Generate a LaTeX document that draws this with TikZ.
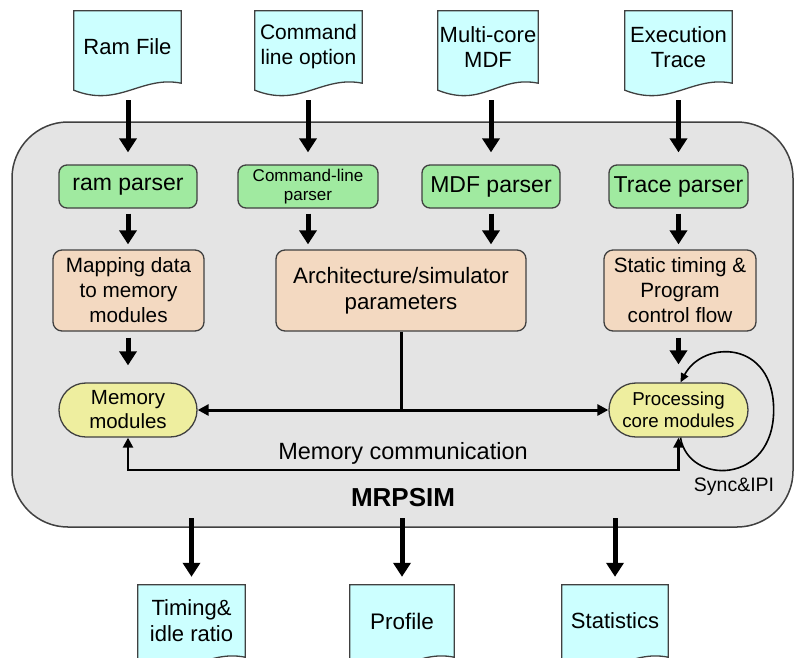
\documentclass[tikz,border=0pt]{standalone}
\usepackage{fontspec}
\setmainfont{Liberation Sans}
\usetikzlibrary{arrows.meta,calc}

\definecolor{docfill}{HTML}{CCFFFF}
\definecolor{parsefill}{HTML}{A0EAA0}
\definecolor{stagefill}{HTML}{F3D9C1}
\definecolor{modfill}{HTML}{EEEE9F}
\definecolor{simfill}{HTML}{E4E4E4}
\definecolor{edge}{HTML}{404040}

\tikzset{
  doc/.style={minimum width=#1, minimum height=72pt, inner sep=0pt,
    align=center, font=\fontsize{22}{25}\selectfont},
  docline/.style={draw=edge, line width=1.3pt, fill=docfill},
  parser/.style={draw=edge, line width=1.3pt, fill=parsefill, rounded corners=8pt,
    minimum width=#1, minimum height=43pt, inner sep=0pt, align=center,
    font=\fontsize{23}{24}\selectfont},
  stage/.style={draw=edge, line width=1.3pt, fill=stagefill, rounded corners=9pt,
    minimum width=#1, minimum height=81pt, inner sep=0pt, align=center,
    font=\fontsize{20.7}{25}\selectfont},
  module/.style={draw=edge, line width=1.3pt, fill=modfill, rounded corners=26.9pt,
    minimum width=#1, minimum height=54pt, inner sep=0pt, align=center},
  simbox/.style={draw=edge, line width=1.5pt, fill=simfill, rounded corners=56pt,
    minimum width=781pt, minimum height=405pt, inner sep=0pt},
  bigarrow/.style={line width=5pt, -{Triangle[width=17pt,length=14pt]}},
  link/.style={line width=3pt, -{Triangle[width=11pt,length=11pt]}},
  commlink/.style={line width=2.4pt, -{Triangle[width=10pt,length=10pt]}},
  looplink/.style={line width=1.6pt, -{Triangle[width=8pt,length=9pt]}},
}

% document-shaped outline (wavy bottom edge) around a named node
\newcommand\docoutline[1]{%
  \draw[docline] (#1.north west) -- (#1.north east) -- (#1.south east)
    .. controls +(-40,-8) and +(45,18) .. ([yshift=-7pt]#1.south west) -- cycle;}

\begin{document}
\begin{tikzpicture}[x=1pt,y=-1pt]
\useasboundingbox (0,0) rectangle (795,657);
\clip (0,0) rectangle (795,657);

% simulator container
\node[simbox] (sim) at (402.5,324.5) {};

% input documents
\node[doc=107pt] (ramfile) at (127.5,47) {};
\node[doc=107pt] (cmdfile) at (308.5,47) {};
\node[doc=100pt] (mdffile) at (488,47) {};
\node[doc=107pt] (tracefile) at (678.5,47) {};
\docoutline{ramfile}
\docoutline{cmdfile}
\docoutline{mdffile}
\docoutline{tracefile}
\node[doc=107pt] at (ramfile) {Ram File};
\node[doc=107pt, font=\fontsize{21}{25}\selectfont] at (cmdfile) {Command\\line option};
\node[doc=100pt] at (mdffile) {Multi-core\\MDF};
\node[doc=107pt] at (tracefile) {Execution\\Trace};

% parsers
\node[parser=138pt] (ramparser) at (128,186.5) {ram parser};
\node[parser=140pt, font=\fontsize{17}{19}\selectfont] (cmdparser) at (308,186.5) {Command-line\\parser};
\node[parser=138pt] (mdfparser) at (491,186.5) {MDF parser};
\node[parser=139pt] (traceparser) at (678.5,186.5) {Trace parser};

% processing stages
\node[stage=151pt] (mapping) at (128.5,290.5) {Mapping data\\to memory\\modules};
\node[stage=250pt, font=\fontsize{22.3}{26}\selectfont] (arch) at (401,290.5) {Architecture/simulator\\parameters};
\node[stage=152pt] (static) at (680,290.5) {Static timing \&\\Program\\control flow};

% modules
\node[module=138pt, font=\fontsize{20.5}{24}\selectfont] (memory) at (128,410) {Memory\\modules};
\node[module=139pt, font=\fontsize{18.7}{22}\selectfont] (processing) at (678.5,410) {Processing\\core modules};

% output documents
\node[doc=107pt] (timing) at (191.5,621) {};
\node[doc=104pt] (profile) at (402,621) {};
\node[doc=106pt] (stats) at (615,621) {};
\docoutline{timing}
\docoutline{profile}
\docoutline{stats}
\node[doc=107pt, font=\fontsize{22}{26}\selectfont] at (timing) {Timing\&\\idle ratio};
\node[doc=104pt, font=\fontsize{22.5}{26}\selectfont] at (profile) {Profile};
\node[doc=106pt, font=\fontsize{22}{26}\selectfont] at (stats) {Statistics};

% labels
\node[font=\fontsize{23.5}{26}\selectfont] (commlabel) at (403,453) {Memory communication};
\node[font=\fontsize{26}{30}\selectfont\bfseries] (simlabel) at (403,498) {MRPSIM};
\node[font=\fontsize{19.5}{22}\selectfont] (synclabel) at (734,487) {Sync\&IPI};

% inputs into parsers
\draw[bigarrow, shorten <=17pt, shorten >=12pt] (ramparser.north |- ramfile.south) -- (ramparser.north);
\draw[bigarrow, shorten <=17pt, shorten >=12pt] (cmdparser.north |- cmdfile.south) -- (cmdparser.north);
\draw[bigarrow, shorten <=17pt, shorten >=12pt] (mdfparser.north |- mdffile.south) -- (mdfparser.north);
\draw[bigarrow, shorten <=17pt, shorten >=12pt] (traceparser.north |- tracefile.south) -- (traceparser.north);

% parsers into stages
\draw[bigarrow, shorten <=5pt, shorten >=5pt] (ramparser.south) -- (ramparser.south |- mapping.north);
\draw[bigarrow, shorten <=5pt, shorten >=5pt] (cmdparser.south) -- (cmdparser.south |- arch.north);
\draw[bigarrow, shorten <=5pt, shorten >=5pt] (mdfparser.south) -- (mdfparser.south |- arch.north);
\draw[bigarrow, shorten <=5pt, shorten >=5pt] (traceparser.south) -- (traceparser.south |- static.north);

% stages into modules
\draw[bigarrow, shorten <=6pt, shorten >=17pt] (memory.north |- mapping.south) -- (memory.north);
\draw[bigarrow, shorten <=6pt, shorten >=18pt] (processing.north |- static.south) -- (processing.north);

% parameters distributed to both module groups
\draw[line width=3pt] (arch.south) -- (arch.south |- memory.east) coordinate (junction);
\draw[link] (junction) -- (memory.east);
\draw[link] (junction) -- (processing.west);

% memory communication
\coordinate (commy) at (0,470);
\draw[commlink] (processing.south |- commy) -- (memory.south |- commy) -- (memory.south);
\draw[commlink] (memory.south |- commy) -- (processing.south |- commy) -- (processing.south);

% synchronisation loop
\draw[looplink] ([xshift=2pt]processing.south)
  .. controls +(8,48) and +(0,75) .. ([xshift=25pt]processing.east)
  .. controls +(0,-70) and +(23,-43) .. ([xshift=2pt]processing.north);

% outputs
\coordinate (outy) at (0,518);
\draw[bigarrow, shorten >=8pt] (timing.north |- outy) -- (timing.north);
\draw[bigarrow, shorten >=8pt] (profile.north |- outy) -- (profile.north);
\draw[bigarrow, shorten >=8pt] (stats.north |- outy) -- (stats.north);
\end{tikzpicture}
\end{document}
